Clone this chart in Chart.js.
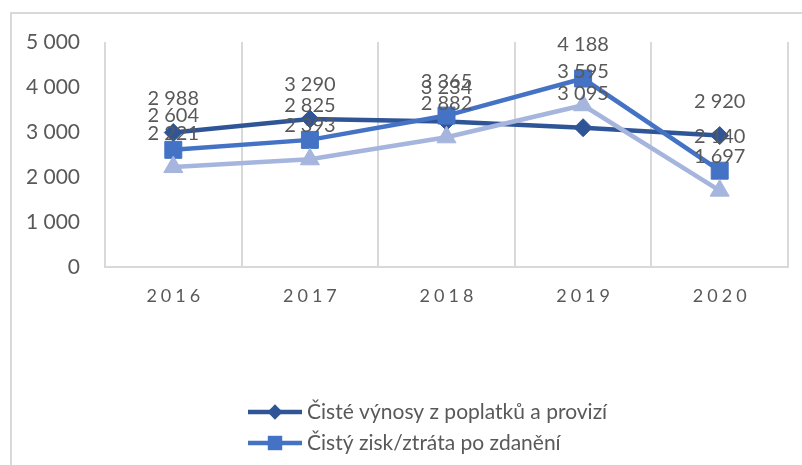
<!DOCTYPE html>
<html>
<head>
<meta charset="utf-8">
<script src="https://cdn.jsdelivr.net/npm/chart.js@4.4.1/dist/chart.umd.min.js"></script>
<style>
  html, body { margin: 0; padding: 0; background: #fff; overflow: hidden; }
  #wrap { position: relative; width: 802px; height: 465px; overflow: hidden; }
  #frame { position: absolute; left: 10px; top: 12px; width: 830px; height: 500px; border: 2px solid #d9d9d9; box-sizing: border-box; }
  canvas { position: absolute; left: 0; top: 0; }
</style>
</head>
<body>
<div id="wrap">
  <div id="frame"></div>
  <canvas id="chart" width="802" height="465"></canvas>
</div>
<script>
// --- data ---
const years = ["2016", "2017", "2018", "2019", "2020"];
const feeIncome = [2988, 3290, 3234, 3095, 2920];
const netProfit = [2604, 2825, 3365, 4188, 2140];
const thirdSeries = [2221, 2393, 2882, 3595, 1697];
const seriesNames = ["Čisté výnosy z poplatků a provizí", "Čistý zisk/ztráta po zdanění", "Řada 3"];
const yMin = 0, yMax = 5000, yStep = 1000;

const colors = ["#2F5597", "#4472C4", "#A5B5DD"];
const styles = ["rectRot", "rect", "triangle"];
const radii = [9, 12, 11];
const textColor = "#595959";
const fontFamily = "Lato, 'Open Sans', sans-serif";

const fmt = v => String(v).replace(/\B(?=(\d{3})+(?!\d))/g, " ");

// value labels, drawn above each point like the Excel ones
const valueLabels = {
  id: "valueLabels",
  afterDatasetsDraw(chart) {
    const ctx = chart.ctx;
    ctx.save();
    ctx.font = "20px " + fontFamily;
    ctx.fillStyle = textColor;
    ctx.textAlign = "center";
    ctx.textBaseline = "middle";
    chart.data.datasets.forEach((ds, i) => {
      chart.getDatasetMeta(i).data.forEach((pt, j) => {
        ctx.fillText(fmt(ds.data[j]), pt.x, pt.y - 34);
      });
    });
    ctx.restore();
  }
};

// spaced-out year labels on the x axis
const spacedTicks = {
  id: "spacedTicks",
  beforeDraw(chart) {
    const s = chart.scales.x;
    if (!s || s._spaced) return;
    const orig = s.drawLabels.bind(s);
    s.drawLabels = function (area) {
      const c = chart.ctx;
      c.save();
      c.letterSpacing = "4px";
      c.translate(2, 0);
      orig(area);
      c.restore();
    };
    s._spaced = true;
  }
};

// legend with line + marker, as in the original
const lineLegend = {
  id: "lineLegend",
  afterDraw(chart) {
    const ctx = chart.ctx;
    const x0 = 248, lineLen = 54, top = 412, row = 31;
    ctx.save();
    ctx.font = "21px " + fontFamily;
    ctx.textBaseline = "middle";
    chart.data.datasets.forEach((ds, i) => {
      const y = top + i * row;
      if (y > chart.height - 10) return;
      ctx.strokeStyle = ds.borderColor;
      ctx.lineWidth = 4.5;
      ctx.beginPath();
      ctx.moveTo(x0, y);
      ctx.lineTo(x0 + lineLen, y);
      ctx.stroke();
      ctx.fillStyle = ds.borderColor;
      Chart.helpers.drawPoint(ctx, { pointStyle: ds.pointStyle, radius: ds.pointRadius * 0.85, rotation: 0, borderWidth: 0 }, x0 + lineLen / 2, y);
      ctx.fillStyle = textColor;
      ctx.fillText(ds.label, x0 + lineLen + 5, y);
    });
    ctx.restore();
  }
};

const seriesData = [feeIncome, netProfit, thirdSeries];

const datasets = seriesData.map((d, i) => ({
  label: seriesNames[i],
  data: d,
  borderColor: colors[i],
  backgroundColor: colors[i],
  pointBackgroundColor: colors[i],
  pointBorderColor: colors[i],
  pointBorderWidth: 1,
  pointStyle: styles[i],
  pointRadius: radii[i],
  borderWidth: 4.5,
  tension: 0,
  order: 3 - i,
}));

new Chart(document.getElementById("chart"), {
  type: "line",
  data: { labels: years, datasets: datasets },
  options: {
    responsive: false,
    animation: false,
    layout: { padding: { left: 0, right: 14, top: 42, bottom: 0 } },
    plugins: { legend: { display: false }, tooltip: { enabled: false } },
    scales: {
      x: {
        offset: true,
        grid: { offset: true, color: "#d9d9d9", lineWidth: 2, drawTicks: false },
        border: { color: "#d9d9d9", width: 2 },
        ticks: { color: textColor, font: { family: fontFamily, size: 18 }, padding: 18 },
        afterFit: s => { s.height = 198; },
      },
      y: {
        min: yMin, max: yMax,
        grid: { display: false, drawTicks: false },
        border: { display: false },
        ticks: { stepSize: yStep, color: textColor, font: { family: fontFamily, size: 21 }, padding: 25, callback: v => fmt(v) },
        afterFit: s => { s.width = 105; },
      },
    },
  },
  plugins: [valueLabels, spacedTicks, lineLegend],
});
</script>
</body>
</html>
